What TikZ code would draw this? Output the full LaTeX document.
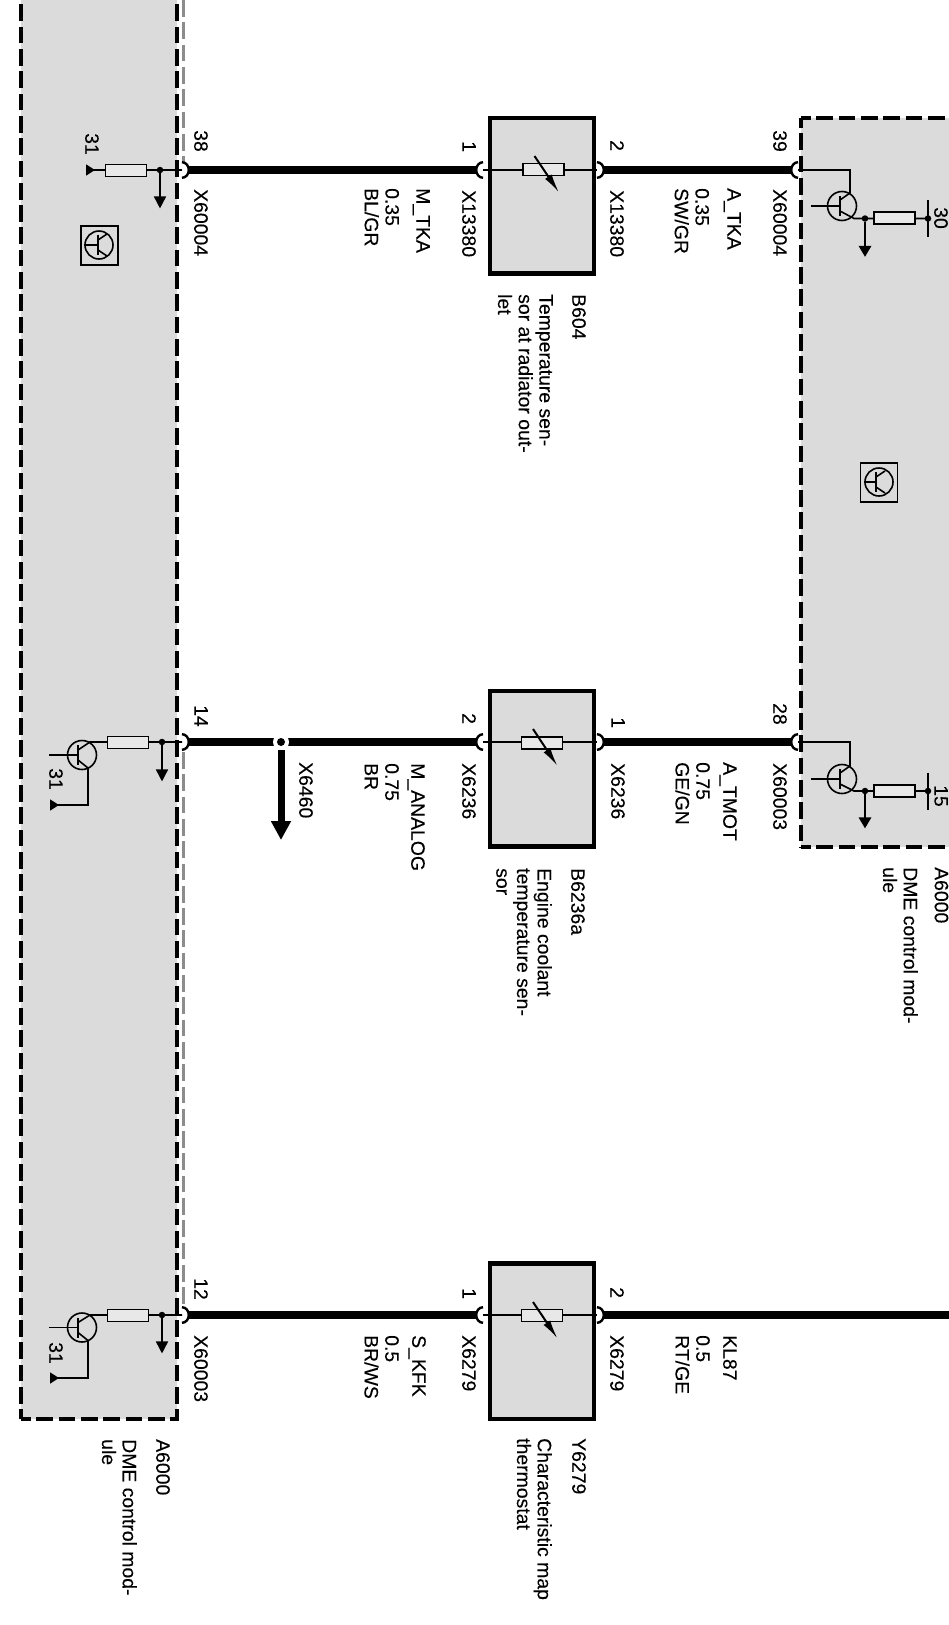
\documentclass[tikz,border=0pt]{standalone}
\usepackage{fontspec}
\setmainfont[FakeBold=0.15]{Liberation Sans}
\usepackage{tikz}
\usetikzlibrary{positioning}
\usetikzlibrary{arrows.meta}
\definecolor{modulegray}{RGB}{219,219,219}
\definecolor{resistorgray}{RGB}{232,232,232}

\begin{document}
\begin{tikzpicture}[x=1pt, y=-1pt,
    lbl/.style={rotate=-90, anchor=north west, inner sep=0pt,
      align=left, font=\fontsize{19.4}{20.7}\selectfont},
    sensorbox/.style={rectangle, draw=black, fill=modulegray,
      line width=4.4pt, minimum width=104pt, minimum height=155.6pt},
    resistor/.style={rectangle, draw=black, fill=resistorgray,
      line width=1.6pt, inner sep=0pt, minimum width=41pt, minimum height=12pt},
    transistor/.style={circle, draw=black, line width=1.6pt,
      inner sep=0pt, minimum size=29pt},
    iconbox/.style={rectangle, draw=black, line width=1.6pt,
      inner sep=0pt, minimum width=37pt, minimum height=39pt},
    wiredot/.style={circle, fill=black, inner sep=0pt, minimum size=6.5pt},
    modline/.style={line width=4.5pt, dash pattern=on 16.7pt off 5.6pt,
      dash phase=7pt},
    greyline/.style={line width=2.4pt, draw=black!45,
      dash pattern=on 16.7pt off 5.6pt},
    wire/.style={line width=7.2pt,
      {Arc Barb[reversed, length=8pt, width=18pt, line width=2.4pt]}-{Arc Barb[reversed, length=8pt, width=18pt, line width=2.4pt]}},
    wireopen/.style={line width=7.2pt,
      {Arc Barb[reversed, length=8pt, width=18pt, line width=2.4pt]}-},
    thinwire/.style={line width=1.6pt},
    slash/.style={line width=2pt, -{Latex[length=19pt, width=8pt]}},
    groundarrow/.style={line width=1.6pt, -{Triangle[length=12pt, width=12pt]}},
    groundthick/.style={line width=2.8pt, -{Triangle[length=11pt, width=12pt]}},
    branch/.style={line width=7pt, -{Triangle[length=19pt, width=19pt]}},
    terminal/.style={line width=1.6pt, -{Triangle[reversed, length=9pt, width=11pt]}},
  ]
  \useasboundingbox (0,0) rectangle (949,1625);
  % Modules
  \fill[modulegray] (21,0) rectangle (177,1419);
  \fill[modulegray] (801,118) rectangle (949,847);
  \draw[modline] (21,1419) -- (21,0);
  \draw[modline] (21,1419) -- (177,1419) -- (177,0);
  \draw[modline] (801,118) -- (949,118);
  \draw[modline] (801,118) -- (801,847);
  \draw[modline] (801,847) -- (949,847);
  \draw[greyline] (183.5,0) -- (183.5,163);
  \draw[greyline] (183.5,752) -- (183.5,1306);
  % Pins
  \coordinate (pin38) at (182,170);
  \coordinate (pin14) at (182,742);
  \coordinate (pin12) at (182,1315);
  \coordinate (pin39) at (798,170);
  \coordinate (pin28) at (798,742);
  \coordinate (pinb1) at (483,170);
  \coordinate (pinb2) at (597,170);
  \coordinate (pinc2) at (483,742);
  \coordinate (pinc1) at (597,742);
  \coordinate (piny1) at (483,1315);
  \coordinate (piny2) at (597,1315);
  \coordinate (edge87) at (949,1315);
  % Sensors
  \node[sensorbox] (b604) at (541.7,195.5) {};
  \node[sensorbox] (b6236a) at (541.7,768.6) {};
  \node[sensorbox] (y6279) at (541.7,1341.3) {};
  \draw[thinwire] (pinb1) -- (pinb2);
  \draw[thinwire] (pinc2) -- (pinc1);
  \draw[thinwire] (piny1) -- (piny2);
  \node[resistor] (rb604) at (543.5,169.5) {};
  \node[resistor] (rb6236a) at (542,743) {};
  \node[resistor] (ry6279) at (542,1315.5) {};
  \draw[slash] ([shift={(-9,-13.5)}]rb604.center) -- ([shift={(15.5,23)}]rb604.center);
  \draw[slash] ([shift={(-9,-14)}]rb6236a.center) -- ([shift={(15.5,23)}]rb6236a.center);
  \draw[slash] ([shift={(-9,-13.5)}]ry6279.center) -- ([shift={(15.5,23)}]ry6279.center);
  % Wires
  \draw[wire] (pin38) -- (pinb1);
  \draw[wire] (pinb2) -- (pin39);
  \draw[wire] (pin14) -- (pinc2);
  \draw[wire] (pinc1) -- (pin28);
  \draw[wire] (pin12) -- (piny1);
  \draw[wireopen] (piny2) -- (edge87);
  % Branch to X6460
  \node[circle, fill=white, inner sep=0pt, minimum size=16pt] (gap14) at (281,742) {};
  \node[wiredot, minimum size=8pt] (dot6460) at (281,742) {};
  \coordinate (tip6460) at (281,840);
  \draw[branch] ([yshift=-8pt]dot6460.center) -- (tip6460);
  % Left module, pin 38
  \coordinate (term38) at (86,170);
  \draw[thinwire] (pin38) -- (96,170);
  \draw[terminal] (96,170) -- (term38);
  \node[resistor] (r38) at (126,170.5) {};
  \node[wiredot] (dot38) at (160,170) {};
  \coordinate[below=35pt of dot38] (gnd38);
  \draw[groundarrow] (dot38) -- (gnd38);
  \node[iconbox] (iconleft) at (99.5,245.5) {};
  \node[transistor, minimum size=28pt] (ticonleft) at (99,245) {};
  \draw[thinwire] (ticonleft.west) -- ++(13,0);
  \draw[thinwire] (98,235) -- (98,255);
  \draw[thinwire] (98,240) -- (107,234);
  \draw[thinwire] (98,250) -- (107,256);
  % Left module, pin 14
  \node[transistor] (t14) at (82,755) {};
  \coordinate (bas14) at (49,755);
  \coordinate (col14) at (90,742);
  \coordinate (emi14) at (88,768);
  \coordinate (cor14) at (88,805);
  \coordinate (term14) at (50,805);
  \draw[thinwire] (pin14) -- (col14) -- (78,750);
  \draw[thinwire] (bas14) -- (78,755);
  \draw[line width=2pt] (78,745) -- (78,765);
  \draw[thinwire] (78,760) -- (emi14) -- (cor14) -- (59,805);
  \draw[terminal] (59,805) -- (term14);
  \node[resistor] (r14) at (128,742.5) {};
  \node[wiredot] (dot14) at (162,742) {};
  \coordinate[below=36pt of dot14] (gnd14);
  \draw[groundarrow] (dot14) -- (gnd14);
  % Left module, pin 12
  \node[transistor] (t12) at (82,1327.5) {};
  \coordinate (bas12) at (49,1327.5);
  \coordinate (col12) at (90,1315);
  \coordinate (emi12) at (88,1340.5);
  \coordinate (cor12) at (88,1378);
  \coordinate (term12) at (50,1378);
  \draw[thinwire] (pin12) -- (col12) -- (78,1322.5);
  \draw[thinwire] (bas12) -- (78,1327.5);
  \draw[line width=2pt] (78,1317.5) -- (78,1337.5);
  \draw[thinwire] (78,1332.5) -- (emi12) -- (cor12) -- (59,1378);
  \draw[terminal] (59,1378) -- (term12);
  \node[resistor] (r12) at (128,1315.5) {};
  \node[wiredot] (dot12) at (162,1315) {};
  \coordinate[below=35pt of dot12] (gnd12);
  \draw[groundarrow] (dot12) -- (gnd12);
  % Right module, pin 39
  \node[transistor] (t39) at (842,206) {};
  \coordinate (col39) at (850,170);
  \coordinate (emi39) at (850,193);
  \coordinate (bas39) at (811,206);
  \draw[thinwire] (pin39) -- (col39) -- (emi39) -- (840,200);
  \draw[thinwire] (bas39) -- (840,206);
  \draw[line width=2pt] (840,196) -- (840,216);
  \draw[thinwire] (840,211) -- (854,218.5) -- (928,218.5);
  \node[resistor] (r39) at (894.5,218) {};
  \node[wiredot] (dot39) at (865,218.5) {};
  \node[wiredot] (dot30) at (928,218.5) {};
  \coordinate[below=35pt of dot39] (gnd39);
  \draw[groundthick] (dot39) -- (gnd39);
  \draw[thinwire] ([yshift=18.5pt]dot30.center) -- ([yshift=-18.5pt]dot30.center);
  % Right module, pin 28
  \node[transistor] (t28) at (842,779) {};
  \coordinate (col28) at (850,742);
  \coordinate (emi28) at (850,766);
  \coordinate (bas28) at (811,779);
  \draw[thinwire] (pin28) -- (col28) -- (emi28) -- (840,773);
  \draw[thinwire] (bas28) -- (840,779);
  \draw[line width=2pt] (840,769) -- (840,789);
  \draw[thinwire] (840,784) -- (854,791) -- (928,791);
  \node[resistor] (r28) at (894.5,791) {};
  \node[wiredot] (dot28) at (865,791) {};
  \node[wiredot] (dot15) at (928,791) {};
  \coordinate[below=34pt of dot28] (gnd28);
  \draw[groundthick] (dot28) -- (gnd28);
  \draw[thinwire] ([yshift=18.5pt]dot15.center) -- ([yshift=-18.5pt]dot15.center);
  % Right module, icon
  \node[iconbox, minimum height=39pt] (iconright) at (879,482.5) {};
  \node[transistor, minimum size=28pt] (ticonright) at (879,482) {};
  \draw[thinwire] (ticonright.west) -- ++(11,0);
  \draw[thinwire] (876,472) -- (876,492);
  \draw[thinwire] (876,477) -- (885,471);
  \draw[thinwire] (876,487) -- (885,493);
  % Labels
  \node[lbl] (n31a) at (99,133) {31};
  \node[lbl] (n38) at (208,130) {38};
  \node[lbl] (x60004a) at (208,189) {X60004};
  \node[lbl] (n31b) at (63,768) {31};
  \node[lbl] (n14) at (208,705) {14};
  \node[lbl] (x6460) at (313,762) {X6460};
  \node[lbl] (n31c) at (63,1342) {31};
  \node[lbl] (n12) at (208,1278) {12};
  \node[lbl] (x60003a) at (208,1335) {X60003};
  \node[lbl] (a6000a) at (170,1439) {A6000};
  \node[lbl] (dmea) at (137,1439) {DME control mod-\\ule};
  \node[lbl] (n1a) at (476,141) {1};
  \node[lbl] (x13380a) at (476,190) {X13380};
  \node[lbl] (mtka) at (430,188) {M\_TKA\\[10.3pt]0.35\\BL/GR};
  \node[lbl] (n2a) at (624,140) {2};
  \node[lbl] (x13380b) at (624,190) {X13380};
  \node[lbl] (atka) at (741,188) {A\_TKA\\[11.3pt]0.35\\SW/GR};
  \node[lbl] (b604t) at (586,294) {B604};
  \node[lbl] (b604d) at (553,294) {Temperature sen-\\sor at radiator out-\\let};
  \node[lbl] (n2b) at (476,713) {2};
  \node[lbl] (x6236a) at (476,763) {X6236};
  \node[lbl] (manalog) at (425,763) {M\_ANALOG\\[5.3pt]0.75\\BR};
  \node[lbl] (n1b) at (625,717) {1};
  \node[lbl] (x6236b) at (625,763) {X6236};
  \node[lbl] (atmot) at (737,762) {A\_TMOT\\[6.3pt]0.75\\GE/GN};
  \node[lbl] (b6236t) at (585,868) {B6236a};
  \node[lbl] (b6236d) at (552,868) {Engine coolant\\temperature sen-\\sor};
  \node[lbl] (n1c) at (476,1288) {1};
  \node[lbl] (x6279a) at (476,1335) {X6279};
  \node[lbl] (skfk) at (426,1335) {S\_KFK\\[6.3pt]0.5\\BR/WS};
  \node[lbl] (n2c) at (624,1287) {2};
  \node[lbl] (x6279b) at (624,1335) {X6279};
  \node[lbl] (kl87) at (737,1335) {KL87\\[6.3pt]0.5\\RT/GE};
  \node[lbl] (y6279t) at (586,1438) {Y6279};
  \node[lbl] (y6279d) at (552,1438) {Characteristic map\\thermostat};
  \node[lbl] (n39) at (787,130) {39};
  \node[lbl] (x60004b) at (787,189) {X60004};
  \node[lbl] (n28) at (787,703) {28};
  \node[lbl] (x60003b) at (787,763) {X60003};
  \node[lbl] (n30) at (948,207) {30};
  \node[lbl] (n15) at (948,785) {15};
  \node[lbl] (a6000b) at (948.5,867) {A6000};
  \node[lbl] (dmeb) at (918,867) {DME control mod-\\ule};
\end{tikzpicture}
\end{document}
